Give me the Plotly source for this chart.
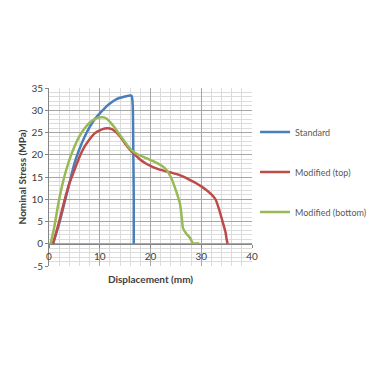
import plotly.graph_objects as go

std_x = [0.8, 2, 3, 4, 5, 6, 7, 8, 9, 10, 11, 12, 13, 14, 15, 16, 16.3, 16.5, 16.6, 16.7, 16.7]
std_y = [0, 4.5, 9, 13.5, 18, 21.3, 24, 26.2, 28, 29.3, 30.5, 31.5, 32.3, 32.8, 33.1, 33.3, 33.2, 31, 22, 10, 0]

top_x = [0.8, 2, 3, 4, 5, 6, 7, 8, 9, 10, 11, 12, 13, 14, 15, 16, 17, 18, 19, 20, 21, 22, 23, 24, 25, 26, 27,
         28, 29, 30, 31, 32, 32.8, 33.5, 34.2, 34.8, 35.0, 35.2]
top_y = [0, 5, 9.5, 13.5, 16.5, 19.5, 21.8, 23.5, 24.8, 25.5, 25.9, 25.9, 25.3, 24.1, 22.5, 21.1, 19.9, 18.9,
         18.1, 17.5, 17.0, 16.6, 16.3, 16.0, 15.7, 15.3, 14.8, 14.2, 13.6, 12.9, 12.1, 11.1, 10.0, 7.8, 5.0,
         2.5, 1.0, 0]

bot_x = [0.3, 1, 2, 3, 4, 5, 6, 7, 8, 9, 10, 10.8, 11.5, 12, 13, 14, 15, 16, 17, 18, 19, 20, 21, 22, 23, 24,
         25, 25.8, 26.2, 26.4, 27.1, 27.8, 28.1, 28.3, 29.6]
bot_y = [0, 3.5, 10, 15, 18.8, 21.8, 24.2, 25.9, 27.2, 28.0, 28.4, 28.4, 28.0, 27.4, 26.0, 24.4, 22.8, 21.3,
         20.4, 19.8, 19.3, 18.8, 18.3, 17.7, 16.8, 15.0, 12.0, 9.0, 5.5, 3.5, 2.2, 1.3, 0.6, 0.1, 0.1]

names = ["Standard", "Modified (top)", "Modified (bottom)"]
colors = ["#4a7ebb", "#be4b48", "#98b954"]
x_ticks = [0, 10, 20, 30, 40]
y_ticks = [-5, 0, 5, 10, 15, 20, 25, 30, 35]

fig = go.Figure()
for i, (xs, ys) in enumerate([(std_x, std_y), (top_x, top_y), (bot_x, bot_y)]):
    fig.add_trace(go.Scatter(x=xs, y=ys, mode="lines", name=names[i], legendgroup=names[i],
                             line=dict(color=colors[i], width=2.5, shape="spline", smoothing=0.6)))

font = "Lato, Noto Sans, sans-serif"
fig.update_layout(
    width=368, height=359,
    margin=dict(l=41, r=124, t=80, b=101, autoexpand=False),
    paper_bgcolor="white", plot_bgcolor="white",
    font=dict(family=font, color="#404040"),
    showlegend=True,
    legend=dict(x=1.015, y=0.834, xanchor="left", yanchor="top", tracegroupgap=21,
                font=dict(size=9, color="#595959"), itemwidth=30, bgcolor="rgba(0,0,0,0)"),
    xaxis=dict(range=[0, 40], tickvals=x_ticks, ticktext=[str(v) for v in x_ticks],
               anchor="free", position=0.125, showline=True, linecolor="#868686", linewidth=1,
               ticks="outside", ticklen=3, tickcolor="#868686", automargin=False,
               showgrid=True, gridcolor="#a6a6a6", gridwidth=1, zeroline=False,
               minor=dict(dtick=2, showgrid=True, gridcolor="#dcdcdc", gridwidth=1),
               tickfont=dict(size=10, color="#404040"),
               title=dict(text="<b>Displacement (mm)</b>", font=dict(size=10, color="#404040"), standoff=15)),
    yaxis=dict(range=[-5, 35], tickvals=y_ticks, ticktext=[str(v) for v in y_ticks],
               showline=True, linecolor="#868686", linewidth=1, automargin=False,
               ticks="outside", ticklen=3, tickcolor="#868686",
               showgrid=True, gridcolor="#a6a6a6", gridwidth=1, zeroline=False,
               minor=dict(dtick=1, showgrid=True, gridcolor="#dcdcdc", gridwidth=1),
               tickfont=dict(size=10, color="#404040"),
               title=dict(text="<b>Nominal Stress (MPa)</b>", font=dict(size=10, color="#404040"), standoff=2)),
)
fig.write_html("out.html")
